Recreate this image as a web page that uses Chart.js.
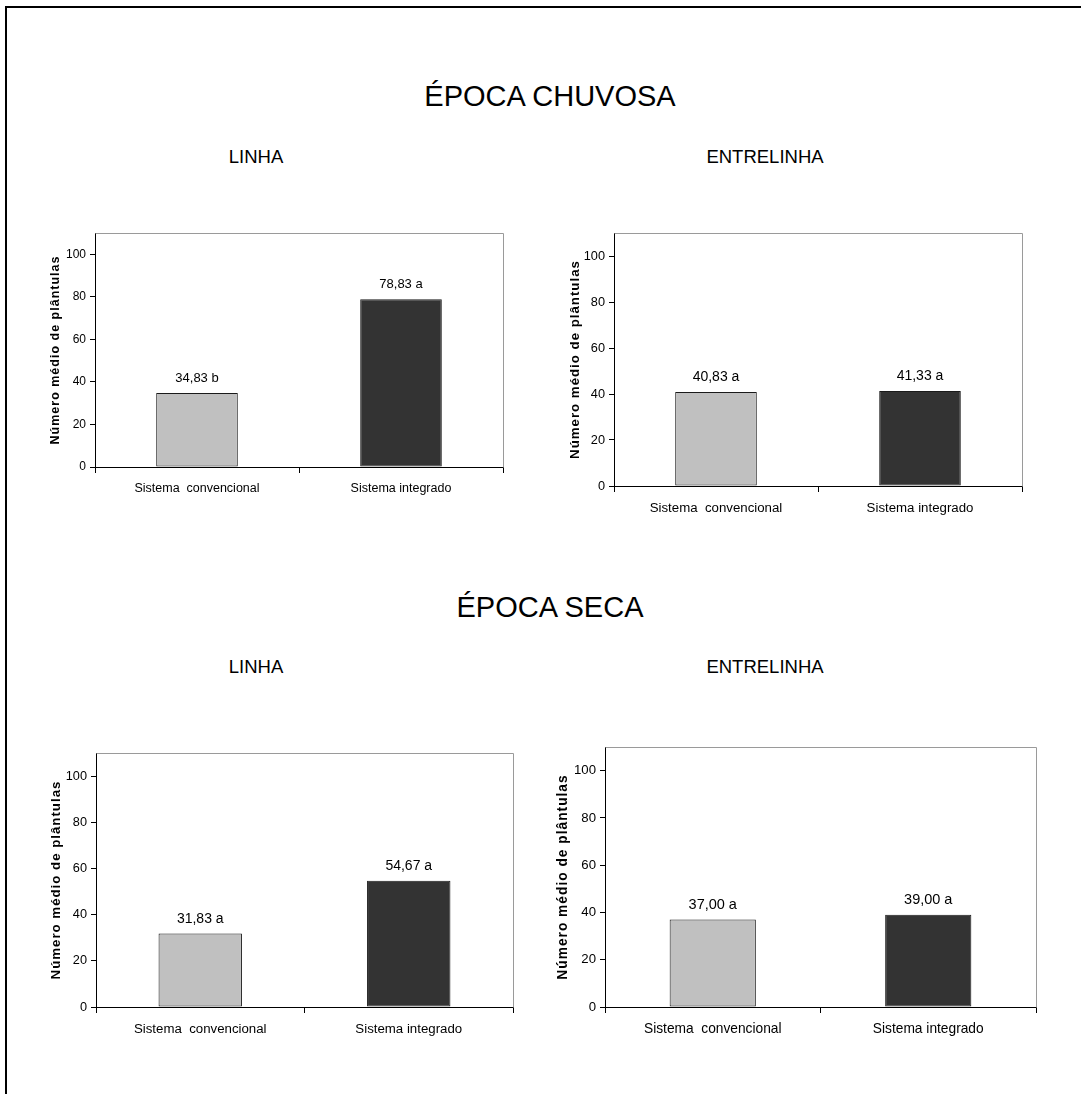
<!DOCTYPE html>
<html>
<head>
<meta charset="utf-8">
<title>Número médio de plântulas</title>
<script src="https://cdn.jsdelivr.net/npm/chart.js@4.4.1/dist/chart.umd.min.js"></script>
<style>
  html, body { margin: 0; padding: 0; background: #fff; overflow: hidden; }
  body { width: 1081px; height: 1094px; position: relative;
         font-family: "Liberation Sans", Arial, sans-serif; color: #000; }
  .frame { position: absolute; left: 5px; top: 6px; width: 1090px; height: 1100px;
           border-top: 2px solid #000; border-left: 2px solid #000; }
  .txt { position: absolute; white-space: nowrap; transform: translate(-50%, -50%); line-height: 1; }
  .season { font-size: 29px; }
  .place { font-size: 18.5px; }
  canvas { position: absolute; }
</style>
</head>
<body>
<div class="frame"></div>

<div class="txt season" style="left:550px; top:96px;">ÉPOCA CHUVOSA</div>
<div class="txt place" style="left:256px; top:157px;">LINHA</div>
<div class="txt place" style="left:765px; top:157px;">ENTRELINHA</div>

<div class="txt season" style="left:550px; top:607px;">ÉPOCA SECA</div>
<div class="txt place" style="left:256px; top:667px;">LINHA</div>
<div class="txt place" style="left:765px; top:667px;">ENTRELINHA</div>

<canvas id="c1"></canvas>
<canvas id="c2"></canvas>
<canvas id="c3"></canvas>
<canvas id="c4"></canvas>

<script>
// Categories shared by all four panels
const categories = ['Sistema  convencional', 'Sistema integrado'];

// Mean number of seedlings, rainy season
const chuvosaLinha = [34.83, 78.83];
const chuvosaLinhaLetters = ['b', 'a'];
const chuvosaEntrelinha = [40.83, 41.33];
const chuvosaEntrelinhaLetters = ['a', 'a'];

// Mean number of seedlings, dry season
const secaLinha = [31.83, 54.67];
const secaLinhaLetters = ['a', 'a'];
const secaEntrelinha = [37.00, 39.00];
const secaEntrelinhaLetters = ['a', 'a'];

// Y axis
const yMin = 0;
const yMax = 110;
const yStep = 20;
const yTitle = 'Número médio de plântulas';

const barColors = ['#c0c0c0', '#333333'];
const FONT = '"Liberation Sans", Arial, sans-serif';

function fmt(v) {
  return v.toFixed(2).replace('.', ',');
}

// Value + significance letter written above each bar
const valueLabels = {
  id: 'valueLabels',
  afterDatasetsDraw(chart, args, opts) {
    const ctx = chart.ctx;
    const meta = chart.getDatasetMeta(0);
    const ds = chart.data.datasets[0];
    ctx.save();
    ctx.fillStyle = '#000';
    ctx.font = opts.size + 'px ' + FONT;
    ctx.textAlign = 'center';
    ctx.textBaseline = 'alphabetic';
    meta.data.forEach((bar, i) => {
      ctx.fillText(fmt(ds.data[i]) + ' ' + opts.letters[i], bar.x, bar.y - opts.gap);
    });
    ctx.restore();
  }
};

// Plot box (top and right edges) and spaced y-axis title
const plotFrame = {
  id: 'plotFrame',
  beforeDatasetsDraw(chart) {
    const a = chart.chartArea;
    const ctx = chart.ctx;
    ctx.save();
    ctx.strokeStyle = '#9a9a9a';
    ctx.lineWidth = 1;
    ctx.beginPath();
    ctx.moveTo(Math.round(a.left) + 0.5, Math.round(a.top) + 0.5);
    ctx.lineTo(Math.round(a.right) + 0.5, Math.round(a.top) + 0.5);
    ctx.lineTo(Math.round(a.right) + 0.5, Math.round(a.bottom) + 0.5);
    ctx.stroke();
    ctx.restore();
  },
  afterDraw(chart, args, opts) {
    const a = chart.chartArea;
    const ctx = chart.ctx;
    ctx.save();
    ctx.translate(opts.x, (a.top + a.bottom) / 2);
    ctx.rotate(-Math.PI / 2);
    ctx.font = 'bold ' + opts.size + 'px ' + FONT;
    ctx.fillStyle = '#000';
    ctx.textAlign = 'center';
    ctx.textBaseline = 'middle';
    if ('letterSpacing' in ctx) ctx.letterSpacing = opts.spacing + 'px';
    ctx.fillText(opts.text, 0, 0);
    ctx.restore();
  }
};

function panel(id, values, letters, box) {
  const padL = 75, padT = 20, padR = 25, padB = 52;
  const canvas = document.getElementById(id);
  const w = box.R - box.L + padL + padR;
  const h = box.B - box.T + padT + padB;
  canvas.style.left = (box.L - padL) + 'px';
  canvas.style.top = (box.T - padT) + 'px';
  canvas.style.width = w + 'px';
  canvas.style.height = h + 'px';
  canvas.width = w;
  canvas.height = h;
  const s = box.scale;

  new Chart(canvas, {
    type: 'bar',
    data: {
      labels: categories,
      datasets: [{
        data: values,
        backgroundColor: barColors,
        borderColor: '#1a1a1a',
        borderWidth: 1,
        borderSkipped: false,
        categoryPercentage: 1.0,
        barPercentage: 0.4
      }]
    },
    options: {
      responsive: false,
      animation: false,
      devicePixelRatio: 1,
      layout: { padding: { left: 0, top: padT, right: padR, bottom: 0 } },
      plugins: {
        legend: { display: false },
        tooltip: { enabled: false },
        valueLabels: { letters: letters, size: Math.round(13 * s * 2) / 2, gap: 11 },
        plotFrame: { x: box.titleX - (box.L - padL), text: yTitle, size: 12.5 * s, spacing: 1.0 }
      },
      scales: {
        x: {
          grid: { display: true, drawOnChartArea: false, drawTicks: true, tickLength: 6,
                  color: '#000', offset: true },
          border: { display: true, color: '#000', width: 1 },
          ticks: { color: '#000', font: { family: FONT, size: 12.5 * s }, padding: 8, maxRotation: 0,
                   autoSkip: false },
          afterFit(scale) { scale.height = padB; }
        },
        y: {
          min: yMin,
          max: yMax,
          grid: { display: true, drawOnChartArea: false, drawTicks: true, tickLength: 5, color: '#000' },
          border: { display: true, color: '#000', width: 1 },
          ticks: { stepSize: yStep, includeBounds: false, color: '#000',
                   font: { family: FONT, size: 12 * s }, padding: 4 },
          afterFit(scale) { scale.width = padL; }
        }
      }
    },
    plugins: [valueLabels, plotFrame]
  });
}

panel('c1', chuvosaLinha, chuvosaLinhaLetters,
      { L: 95, R: 503, T: 233, B: 467, titleX: 56, scale: 1.0 });
panel('c2', chuvosaEntrelinha, chuvosaEntrelinhaLetters,
      { L: 614, R: 1022, T: 233, B: 486, titleX: 575, scale: 1.06 });
panel('c3', secaLinha, secaLinhaLetters,
      { L: 96, R: 513, T: 753, B: 1007, titleX: 56, scale: 1.06 });
panel('c4', secaEntrelinha, secaEntrelinhaLetters,
      { L: 605, R: 1036, T: 747, B: 1007, titleX: 563, scale: 1.1 });
</script>
</body>
</html>
